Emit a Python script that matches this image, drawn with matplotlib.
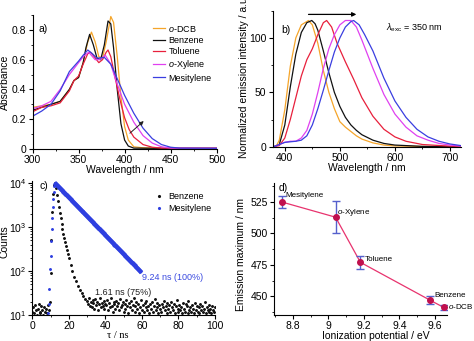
import matplotlib
matplotlib.use('Agg')
import matplotlib.pyplot as plt
import numpy as np
from matplotlib.ticker import MultipleLocator, FuncFormatter

plt.rcParams['font.family'] = ['Liberation Sans', 'DejaVu Sans']
plt.rcParams['mathtext.fontset'] = 'custom'
plt.rcParams['mathtext.rm'] = 'Liberation Sans'
plt.rcParams['mathtext.it'] = 'Liberation Sans:italic'
plt.rcParams['font.size'] = 7.5

# ---- a) absorbance ----
solvents = ['$o$-DCB', 'Benzene', 'Toluene', '$o$-Xylene', 'Mesitylene']
cols = ['#f5a52a', '#111111', '#e8203c', '#e040f0', '#3a3ee0']

wl_dcb = [300, 310, 320, 330, 340, 345, 350, 355, 360, 364, 368, 372, 376, 380, 385, 388, 392, 396, 400, 404, 410, 420, 450, 500]
ab_dcb = [0.28, 0.29, 0.30, 0.32, 0.40, 0.46, 0.48, 0.58, 0.72, 0.785, 0.72, 0.62, 0.61, 0.72, 0.89, 0.85, 0.62, 0.35, 0.15, 0.06, 0.015, 0.008, 0.006, 0.006]
wl_bz = [300, 310, 320, 330, 340, 345, 350, 355, 358, 362, 366, 370, 374, 378, 382, 385, 388, 392, 396, 400, 404, 410, 450, 500]
ab_bz = [0.26, 0.28, 0.30, 0.32, 0.40, 0.46, 0.48, 0.58, 0.68, 0.77, 0.70, 0.61, 0.60, 0.70, 0.86, 0.84, 0.68, 0.40, 0.17, 0.06, 0.02, 0.006, 0.004, 0.004]
wl_tol = [300, 310, 320, 330, 340, 345, 350, 355, 360, 363, 367, 372, 376, 380, 382, 385, 390, 395, 400, 405, 410, 420, 430, 440, 500]
ab_tol = [0.25, 0.28, 0.29, 0.31, 0.39, 0.46, 0.49, 0.57, 0.64, 0.65, 0.62, 0.58, 0.60, 0.65, 0.665, 0.62, 0.47, 0.33, 0.21, 0.13, 0.08, 0.03, 0.012, 0.006, 0.005]
wl_xyl = [300, 310, 320, 330, 340, 350, 355, 361, 368, 373, 379, 385, 390, 400, 410, 420, 430, 440, 450, 500]
ab_xyl = [0.27, 0.29, 0.32, 0.40, 0.50, 0.58, 0.62, 0.65, 0.60, 0.60, 0.63, 0.57, 0.47, 0.30, 0.18, 0.09, 0.04, 0.015, 0.006, 0.005]
wl_mes = [300, 310, 320, 330, 340, 350, 355, 360, 365, 370, 378, 385, 390, 400, 410, 420, 430, 440, 450, 460, 500]
ab_mes = [0.22, 0.255, 0.30, 0.39, 0.52, 0.59, 0.63, 0.665, 0.64, 0.61, 0.615, 0.57, 0.50, 0.36, 0.24, 0.14, 0.07, 0.03, 0.012, 0.006, 0.005]

# ---- b) emission ----
em_wl_dcb = [380, 385, 390, 400, 410, 420, 430, 443, 450, 460, 470, 480, 490, 500, 510, 520, 530, 540, 560, 580, 600, 650, 720]
em_dcb = [0, 1, 6, 34, 74, 100, 112, 116, 112, 95, 70, 50, 35, 23, 18, 14, 10, 7, 3.5, 1.5, 0.7, 0.2, 0]
em_wl_bz = [380, 390, 400, 410, 420, 430, 440, 449, 455, 460, 470, 480, 490, 500, 510, 520, 530, 540, 560, 580, 600, 650, 720]
em_bz = [0, 2, 20, 55, 85, 105, 114, 116, 113, 107, 88, 68, 50, 37, 27, 20, 15, 11, 6, 3, 1.5, 0.3, 0]
em_wl_tol = [380, 390, 400, 410, 420, 430, 440, 450, 460, 470, 476, 485, 495, 510, 525, 540, 560, 580, 600, 620, 650, 700, 720]
em_tol = [0, 1, 8, 25, 45, 65, 80, 90, 103, 114, 116, 110, 95, 78, 62, 45, 28, 16, 9, 5, 2, 0.5, 0.3]
em_wl_xyl = [380, 390, 400, 410, 420, 430, 440, 450, 460, 470, 480, 490, 500, 510, 520, 530, 540, 550, 560, 580, 600, 620, 640, 660, 680, 700, 720]
em_xyl = [0, 2, 4, 5, 5, 8, 15, 30, 50, 72, 90, 103, 112, 116, 116, 110, 98, 85, 72, 48, 30, 18, 10, 6, 3, 1.5, 0.5]
em_wl_mes = [380, 390, 400, 410, 420, 430, 440, 450, 460, 470, 480, 490, 500, 510, 520, 525, 535, 545, 560, 580, 600, 620, 640, 660, 680, 700, 720]
em_mes = [0, 2, 4, 4.5, 5, 6, 10, 20, 35, 52, 70, 87, 100, 110, 115, 116, 112, 103, 88, 63, 42, 27, 16, 9, 5, 2.5, 1]

# ---- c) decay ----
bz_t = [0, 0.5, 1, 1.5, 2, 2.5, 3, 3.5, 4, 4.5, 5, 5.5, 6, 6.5, 7, 7.5, 8, 8.5, 9,
        9.5, 10, 10.5, 11, 11.5, 12, 12.5, 13, 13.5, 14, 14.5, 15, 15.5, 16, 16.5, 17, 17.5, 18, 18.5,
        19, 19.5, 20, 21, 22, 23, 24, 25, 26, 27, 28, 29]
bz_counts = [12, 15, 11, 17, 13, 10, 14, 18, 12, 11, 16, 13, 10, 15, 12, 14, 11, 17, 13,
             20, 90, 500, 2200, 5800, 9300, 10000, 7600, 5500, 4000, 2900, 2150, 1600, 1200, 900, 700, 560, 450, 370,
             300, 240, 195, 135, 100, 75, 58, 46, 38, 32, 27, 23]
bz_tail_t = np.arange(30, 100.5, 0.5)
bz_tail = [21, 18, 24, 16, 20, 15, 22, 19, 14, 23, 17, 20, 13, 18, 25, 15, 19, 16, 21, 14, 18,
           17, 22, 13, 19, 15, 24, 16, 12, 20, 18, 14, 21, 16, 19, 13, 23, 15, 17, 20, 12,
           18, 14, 22, 16, 11, 19, 15, 21, 13, 17, 24, 12, 16, 20, 14, 18, 11, 15, 22, 13,
           17, 12, 19, 15, 21, 13, 16, 11, 18, 14, 20, 12, 16, 23, 13, 15, 19, 11, 17, 14,
           12, 18, 15, 21, 13, 16, 11, 19, 14, 17, 12, 20, 15, 13, 18, 11, 16, 22, 14, 12,
           17, 13, 15, 11, 19, 14, 12, 18, 16, 11, 21, 13, 15, 12, 17, 14, 11, 19, 13, 16,
           12, 15, 11, 18, 13, 16, 12, 14, 20, 11, 15, 13, 17, 12, 14, 11, 16, 13, 12, 15]
mes_rise_t = [8.8, 9.1, 9.4, 9.7, 10.0, 10.3, 10.6, 10.9, 11.2, 11.5, 11.8, 12.1, 12.5]
mes_rise = [11, 18, 40, 110, 220, 480, 900, 1600, 2800, 4300, 6200, 8500, 10000]
mes_t = np.arange(13, 60)
mes_counts = [9500, 8620, 7810, 7080, 6410, 5810, 5260, 4760, 4320, 3910, 3540, 3210, 2900, 2630, 2380,
              2160, 1950, 1770, 1600, 1450, 1315, 1190, 1080, 980, 885, 800, 726, 658, 596, 540, 489,
              443, 401, 363, 329, 298, 270, 244, 221, 200, 182, 164, 149, 135, 122, 111, 100]

# ---- d) emission max vs IP ----
ip = [8.74, 9.04, 9.18, 9.57, 9.65]
em_max = [525, 513, 477, 447, 441]
em_err = [5, 13, 5, 3, 2]
d_names = ['Mesitylene', '$o$-Xylene', 'Toluene', 'Benzene', '$o$-DCB']

fig = plt.figure(figsize=(4.74, 3.41), dpi=100)
ax_a = fig.add_axes([0.0686, 0.563, 0.3886, 0.393])
ax_b = fig.add_axes([0.5753, 0.5698, 0.3973, 0.3988])
ax_c = fig.add_axes([0.0681, 0.0762, 0.3854, 0.393])
ax_d = fig.add_axes([0.5787, 0.0762, 0.3637, 0.3862])

gfmt = FuncFormatter(lambda v, p: '%g' % v)
for ax in (ax_a, ax_b, ax_c, ax_d):
    ax.spines['top'].set_visible(False)
    ax.spines['right'].set_visible(False)
    ax.tick_params(which='major', direction='out', length=3, width=0.8, labelsize=7.5, pad=1.5)
    ax.tick_params(which='minor', direction='out', length=1.6, width=0.6)

# a
for w, a, c, n in zip([wl_dcb, wl_bz, wl_tol, wl_xyl, wl_mes], [ab_dcb, ab_bz, ab_tol, ab_xyl, ab_mes], cols, solvents):
    ax_a.plot(w, a, color=c, lw=0.9, label=n)
ax_a.set_xlim(300, 500)
ax_a.set_ylim(0, 0.9)
ax_a.xaxis.set_major_locator(MultipleLocator(50))
ax_a.xaxis.set_minor_locator(MultipleLocator(25))
ax_a.yaxis.set_major_locator(MultipleLocator(0.2))
ax_a.yaxis.set_minor_locator(MultipleLocator(0.1))
ax_a.yaxis.set_major_formatter(gfmt)
ax_a.set_xlabel('Wavelength / nm')
ax_a.set_ylabel('Absorbance')
ax_a.yaxis.set_label_coords(-0.122, 0.5)
ax_a.xaxis.set_label_coords(0.5, -0.12)
ax_a.text(307, 0.807, 'a)', fontsize=7.5, va='center')
ax_a.annotate('', xy=(423, 0.20), xytext=(403.5, 0.094),
              arrowprops=dict(arrowstyle='-|>', color='#222222', lw=0.7, mutation_scale=6))
ax_a.legend(loc='upper left', bbox_to_anchor=(0.63, 0.97), frameon=False, fontsize=6.5,
            handlelength=1.3, handletextpad=0.4, labelspacing=0.25, borderpad=0)

# b
for w, e, c in zip([em_wl_dcb, em_wl_bz, em_wl_tol, em_wl_xyl, em_wl_mes], [em_dcb, em_bz, em_tol, em_xyl, em_mes], cols):
    ax_b.plot(w, e, color=c, lw=0.9)
ax_b.set_xlim(378, 720)
ax_b.set_ylim(0, 125)
ax_b.xaxis.set_major_locator(MultipleLocator(100))
ax_b.xaxis.set_minor_locator(MultipleLocator(50))
ax_b.yaxis.set_major_locator(MultipleLocator(50))
ax_b.yaxis.set_minor_locator(MultipleLocator(25))
ax_b.set_xlabel('Wavelength / nm')
ax_b.set_ylabel('Normalized emission intensity / a.u.')
ax_b.yaxis.set_label_coords(-0.126, 0.52)
ax_b.xaxis.set_label_coords(0.5, -0.12)
ax_b.text(393, 107.7, 'b)', fontsize=7.5, va='center')
ax_b.text(584, 109.6, r'$\lambda_{\rm exc}$ = 350 nm', fontsize=6.5, va='center')
ax_b.annotate('', xy=(535, 121.6), xytext=(438, 121.6),
              arrowprops=dict(arrowstyle='-|>', color='black', lw=0.9, mutation_scale=6), annotation_clip=False)

# c
ax_c.set_yscale('log')
ax_c.plot(bz_t, bz_counts, ls='none', marker='.', ms=2.2, color='#111111')
ax_c.plot(bz_tail_t, bz_tail, ls='none', marker='.', ms=2.2, color='#111111')
ax_c.plot(mes_rise_t, mes_rise, ls='none', marker='.', ms=2.2, color='#2e3fe0')
ax_c.plot(mes_t, mes_counts, ls='-', lw=3.2, marker='.', ms=4, color='#2e3fe0')
ax_c.plot([], [], ls='none', marker='.', ms=2.5, color='#111111', label='Benzene')
ax_c.plot([], [], ls='none', marker='.', ms=2.5, color='#2e3fe0', label='Mesitylene')
ax_c.set_xlim(0, 100)
ax_c.set_ylim(10, 1.12e4)
ax_c.xaxis.set_major_locator(MultipleLocator(20))
ax_c.xaxis.set_minor_locator(MultipleLocator(10))
ax_c.set_xlabel('τ / ns', family=['Liberation Serif', 'DejaVu Serif'])
ax_c.set_ylabel('Counts')
ax_c.yaxis.set_label_coords(-0.125, 0.547)
ax_c.xaxis.set_label_coords(0.47, -0.118)
ax_c.text(4.2, 8500, 'c)', fontsize=7.5, va='center')
ax_c.text(59.9, 73, '9.24 ns (100%)', color='#3a4ae0', fontsize=6.5, va='center')
ax_c.text(34.3, 32.8, '1.61 ns (75%)', color='#222222', fontsize=6.5, va='center')
ax_c.legend(loc='upper left', bbox_to_anchor=(0.65, 0.95), frameon=False, fontsize=6.5,
            handlelength=0.8, handletextpad=0.6, labelspacing=0.3, borderpad=0)

# d
ax_d.plot(ip, em_max, color='#e8336e', lw=0.9, zorder=2)
ax_d.errorbar(ip, em_max, yerr=em_err, fmt='none', ecolor='#5560cc', elinewidth=1.0, capsize=3, capthick=1.0, zorder=3)
ax_d.plot(ip, em_max, ls='none', marker='o', ms=4, color='#c0104e', zorder=4)
ax_d.set_xlim(8.695, 9.666)
ax_d.set_ylim(435, 540)
ax_d.xaxis.set_major_locator(MultipleLocator(0.2))
ax_d.xaxis.set_minor_locator(MultipleLocator(0.1))
ax_d.xaxis.set_major_formatter(gfmt)
ax_d.yaxis.set_major_locator(MultipleLocator(25))
ax_d.yaxis.set_minor_locator(MultipleLocator(12.5))
ax_d.set_xlabel('Ionization potential / eV')
ax_d.set_ylabel('Emission maximum / nm')
ax_d.yaxis.set_label_coords(-0.162, 0.456)
ax_d.xaxis.set_label_coords(0.59, -0.122)
ax_d.text(8.72, 536, 'd)', fontsize=7.5, va='center')
d_lx = [8.755, 9.046, 9.206, 9.594, 9.675]
d_ly = [530.3, 516.6, 479.2, 450.2, 441.5]
for x, y, n in zip(d_lx, d_ly, d_names):
    ax_d.text(x, y, n, fontsize=5.8, va='center', clip_on=False)

fig.savefig('out.png', dpi=100)
